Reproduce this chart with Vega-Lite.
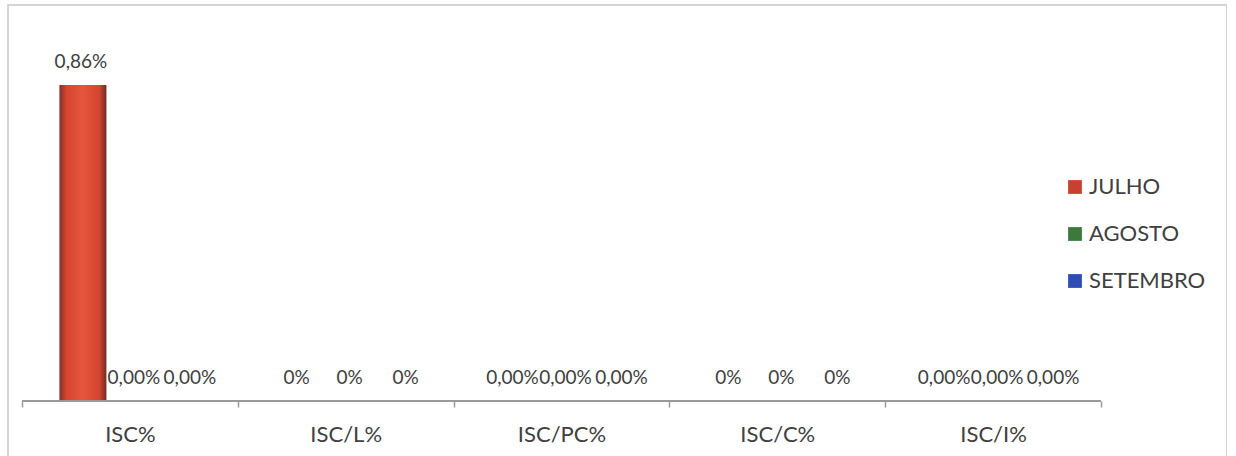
{
  "$schema": "https://vega.github.io/schema/vega-lite/v6.json",
  "width": 1219,
  "height": 460,
  "padding": {"left": 8, "top": 5, "right": 0, "bottom": 0},
  "autosize": {"type": "none"},
  "background": "white",
  "config": {
    "view": {"stroke": "#c8c8c8", "strokeWidth": 1.5},
    "font": "Lato",
    "text": {"font": "Lato"}
  },
  "data": {
    "values": [
      {"cat": "ISC%", "series": "JULHO", "value": 0.86, "label": "0,86%"},
      {"cat": "ISC%", "series": "AGOSTO", "value": 0, "label": "0,00%"},
      {"cat": "ISC%", "series": "SETEMBRO", "value": 0, "label": "0,00%"},
      {"cat": "ISC/L%", "series": "JULHO", "value": 0, "label": "0%"},
      {"cat": "ISC/L%", "series": "AGOSTO", "value": 0, "label": "0%"},
      {"cat": "ISC/L%", "series": "SETEMBRO", "value": 0, "label": "0%"},
      {"cat": "ISC/PC%", "series": "JULHO", "value": 0, "label": "0,00%"},
      {"cat": "ISC/PC%", "series": "AGOSTO", "value": 0, "label": "0,00%"},
      {"cat": "ISC/PC%", "series": "SETEMBRO", "value": 0, "label": "0,00%"},
      {"cat": "ISC/C%", "series": "JULHO", "value": 0, "label": "0%"},
      {"cat": "ISC/C%", "series": "AGOSTO", "value": 0, "label": "0%"},
      {"cat": "ISC/C%", "series": "SETEMBRO", "value": 0, "label": "0%"},
      {"cat": "ISC/I%", "series": "JULHO", "value": 0, "label": "0,00%"},
      {"cat": "ISC/I%", "series": "AGOSTO", "value": 0, "label": "0,00%"},
      {"cat": "ISC/I%", "series": "SETEMBRO", "value": 0, "label": "0,00%"}
    ]
  },
  "encoding": {
    "x": {
      "field": "cat",
      "type": "nominal",
      "sort": ["ISC%", "ISC/L%", "ISC/PC%", "ISC/C%", "ISC/I%"],
      "scale": {"paddingInner": 0, "paddingOuter": 0.3244, "align": 0.1},
      "axis": {
        "title": null,
        "domain": false,
        "tickBand": "extent",
        "tickSize": 6,
        "tickColor": "#9a9a9a",
        "tickWidth": 1.5,
        "labelAngle": 0,
        "labelFont": "Lato",
        "labelFontSize": 22,
        "labelColor": "#404040",
        "labelBaseline": "middle",
        "labelPadding": 27,
        "offset": -64
      }
    },
    "xOffset": {
      "field": "series",
      "type": "nominal",
      "sort": ["JULHO", "AGOSTO", "SETEMBRO"],
      "scale": {"paddingInner": 0, "paddingOuter": 0.796}
    },
    "y": {
      "field": "value",
      "type": "quantitative",
      "scale": {"domain": [-0.1742, 1.0778], "nice": false, "zero": false},
      "axis": null
    }
  },
  "layer": [
    {
      "mark": {"type": "bar"},
      "encoding": {
        "y2": {"datum": 0},
        "color": {
          "field": "series",
          "type": "nominal",
          "sort": ["JULHO", "AGOSTO", "SETEMBRO"],
          "scale": {"domain": ["JULHO", "AGOSTO", "SETEMBRO"], "range": ["#C9402E", "#3C7A3C", "#2C4DB5"]},
          "legend": {
            "orient": "none",
            "legendX": 1056,
            "legendY": 171,
            "title": null,
            "symbolType": "square",
            "symbolSize": 190,
            "symbolStrokeWidth": 0,
            "labelFont": "Lato",
            "labelFontSize": 22,
            "labelColor": "#404040",
            "labelOffset": 3,
            "rowPadding": 25
          },
          "condition": {
            "test": "datum.value > 0",
            "value": {
              "gradient": "linear",
              "x1": 0, "x2": 1, "y1": 0, "y2": 0,
              "stops": [
                {"offset": 0, "color": "#7E3228"},
                {"offset": 0.15, "color": "#D6452F"},
                {"offset": 0.5, "color": "#E6553D"},
                {"offset": 0.85, "color": "#D3442F"},
                {"offset": 1, "color": "#6E2D25"}
              ]
            }
          }
        }
      }
    },
    {
      "transform": [{"filter": "datum.series === 'JULHO'"}],
      "mark": {"type": "text", "baseline": "middle", "dy": -23, "dx": -2, "fontSize": 19, "color": "#404040", "font": "Lato"},
      "encoding": {"text": {"field": "label"}}
    },
    {
      "transform": [{"filter": "datum.series === 'AGOSTO'"}],
      "mark": {"type": "text", "baseline": "middle", "dy": -23, "dx": 4, "fontSize": 19, "color": "#404040", "font": "Lato"},
      "encoding": {"text": {"field": "label"}}
    },
    {
      "transform": [{"filter": "datum.series === 'SETEMBRO'"}],
      "mark": {"type": "text", "baseline": "middle", "dy": -23, "dx": 13, "fontSize": 19, "color": "#404040", "font": "Lato"},
      "encoding": {"text": {"field": "label"}}
    },
    {
      "mark": {"type": "rule", "color": "#9a9a9a", "strokeWidth": 1.5},
      "encoding": {
        "x": {"datum": "ISC%", "bandPosition": 0},
        "x2": {"datum": "ISC/I%", "bandPosition": 1},
        "y": {"datum": 0},
        "xOffset": null
      }
    }
  ]
}
